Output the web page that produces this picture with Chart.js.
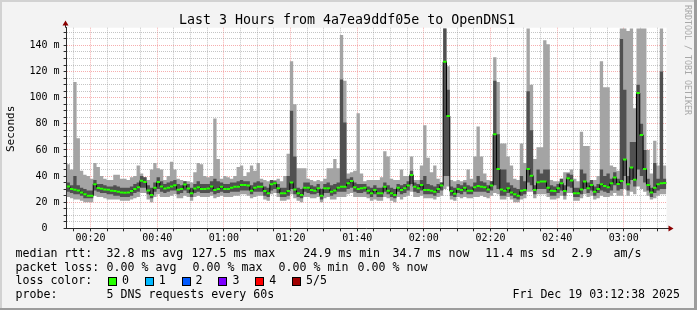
<!DOCTYPE html>
<html>
<head>
<meta charset="utf-8">
<script src="https://cdn.jsdelivr.net/npm/chart.js@4/dist/chart.umd.min.js"></script>
<style>
  body { margin: 0; background: #f3f3f3; }
  #frame { position: relative; width: 697px; height: 310px; overflow: hidden; background: #f3f3f3;
           font-family: 'DejaVu Sans Mono', monospace; color: #000; }
  #c { position: absolute; left: 0; top: 0; }
  .t { position: absolute; white-space: pre; font-size: 11.6px; line-height: 11.6px; }
  .box { position: absolute; top: 277px; width: 7px; height: 7px; border: 1px solid #000; }
  .edge { position: absolute; }
</style>
</head>
<body>
<div id="frame">
  <canvas id="c" width="697" height="310"></canvas>
  <div class="edge" style="left:0;top:0;width:697px;height:2px;background:#d2d2d2"></div>
  <div class="edge" style="left:0;top:0;width:2px;height:310px;background:#d2d2d2"></div>
  <div class="edge" style="right:0;top:0;width:3px;height:310px;background:#9c9c9c"></div>
  <div class="edge" style="left:0;bottom:0;width:697px;height:2px;background:#9c9c9c"></div>

  <div class="t" style="left:179px;top:12.75px;font-size:13.3px;line-height:13.3px">Last 3 Hours from 4a7ea9ddf05e to OpenDNS1</div>
  <div class="t" style="left:5.2px;top:151.5px;font-size:11px;line-height:11px;transform:rotate(-90deg);transform-origin:0 0">Seconds</div>
  <div class="t" style="left:692px;top:5px;font-size:8.3px;line-height:8.3px;color:#a8a8a8;transform:rotate(90deg);transform-origin:0 0">RRDTOOL / TOBI OETIKER</div>
  <div id="legend"></div>
</div>
<script>
// one sample per minute, 00:12:48 .. 03:12:48 (minutes after midnight)
const sampleStart = 12.8;
const timeMax = 192.85;

// sorted ping results per minute (ms): min, 2nd, median, 4th, max
const pingMin = [
  24,23,22,22,21,20,20,20,25,24, 24,23,22,22,22,22,21,21,21,22,
  23,24,27,27,22,20,24,26,24,24, 24,25,26,23,23,25,24,21,24,25,
  24,24,24,25,23,24,25,24,24,24, 25,25,26,26,25,23,24,25,25,22,
  21,26,27,24,21,21,22,26,23,21, 20,24,24,23,23,24,20,23,24,22,
  22,24,24,24,26,27,24,24,24,24, 23,21,22,21,21,24,23,21,20,24,
  22,24,25,28,24,24,25,23,23,23, 22,24,25,30,32,22,21,24,23,24,
  23,23,24,24,25,24,23,25,27,26, 22,22,24,22,20,20,22,23,28,28,
  23,26,26,26,24,22,22,23,25,22, 27,27,21,21,23,26,24,25,22,23,
  25,24,24,25,27,25,25,30,25,28, 26,32,30,28,25,22,23,25,26,26
];
const pingLo = [
  28,27,26,26,25,23,23,23,29,28, 27,27,26,26,25,25,24,24,24,25,
  27,28,31,31,26,23,28,30,28,27, 28,29,29,26,27,29,27,24,27,28,
  27,27,27,28,26,27,28,27,27,28, 28,28,29,29,29,26,28,28,28,25,
  24,29,30,27,24,24,25,30,26,24, 23,28,27,26,26,27,22,27,27,25,
  26,28,28,28,30,31,28,27,27,28, 26,24,26,24,24,28,26,24,23,28,
  26,27,29,34,28,27,29,26,26,26, 25,27,29,40,40,25,24,27,26,28,
  26,26,28,28,28,28,27,29,33,30, 25,25,27,25,23,22,25,26,35,33,
  26,30,30,30,27,25,25,27,29,25, 32,31,24,24,26,30,27,29,25,27,
  29,28,27,29,33,29,30,40,29,37, 32,45,40,35,29,24,27,29,30,30
];
const median = [
  32.0,30.0,29.5,29.0,27.5,26.0,25.0,25.0,33.8,30.8, 30.2,29.8,29.5,28.8,28.5,28.0,27.5,27.3,27.5,28.5,
  30.0,31.5,36.5,35.5,29.0,25.5,31.0,35.5,32.0,30.5, 31.0,32.0,33.0,29.5,30.0,33.5,30.5,26.8,30.5,31.5,
  30.0,30.0,30.5,32.0,29.3,30.1,31.9,30.1,30.1,31.1, 31.9,31.9,33.2,33.2,32.7,28.8,31.1,31.9,31.9,28.5,
  26.8,33.7,34.5,30.6,26.8,26.8,28.5,35.0,29.8,26.8, 25.5,31.1,31.1,29.3,28.8,30.6,25.0,30.6,30.6,28.0,
  29.0,31.1,31.9,31.9,34.5,36.3,31.4,30.1,30.6,31.0, 28.8,26.8,29.3,26.8,26.8,31.9,28.8,26.8,25.5,31.1,
  29.3,30.6,32.7,40.9,31.9,30.6,33.2,29.3,29.3,28.8, 28.0,30.1,32.7,127.5,86.0,28.5,26.5,30.1,29.3,31.1,
  28.8,28.8,31.4,32.4,31.9,31.4,29.8,32.7,72.0,45.4, 29.8,28.8,30.6,27.5,26.0,25.0,28.8,29.3,45.4,40.3,
  29.3,35.3,35.8,35.8,31.1,28.8,28.5,30.6,34.5,28.5, 38.4,36.6,26.8,26.8,29.8,35.8,30.6,33.2,28.0,30.1,
  33.7,32.4,31.4,34.5,38.9,33.9,36.3,52.7,33.7,46.5, 37.1,103.6,71.5,45.4,33.2,27.5,31.1,33.7,34.5,34.7
];
const pingHi = [
  35,33,40,33,31,30,29,29,37,34, 34,33,32,32,33,32,31,31,31,32,
  34,35,40,39,33,31,35,39,36,34, 35,36,37,34,33,36,34,31,34,36,
  34,34,34,36,38,36,35,34,34,35, 35,36,37,36,36,33,35,36,35,32,
  31,37,36,34,31,31,40,90,55,31, 30,35,35,33,32,34,30,34,35,33,
  34,35,114,81,38,39,35,34,34,34, 32,31,33,31,31,35,33,31,30,34,
  33,34,36,44,35,34,37,40,34,33, 32,34,35,153,106,32,31,34,33,35,
  33,32,35,40,36,35,33,36,113,72, 45,45,35,33,31,30,40,36,105,75,
  33,45,42,45,45,33,32,34,38,33, 42,41,31,31,45,42,35,37,32,34,
  45,40,42,38,43,38,145,106,40,66, 66,110,80,60,38,31,50,38,120,38
];
const pingMax = [
  49,45,112,69,44,41,40,38,50,47, 40,38,37,37,41,41,38,38,37,39,
  40,48,42,39,37,45,50,46,45,37, 40,51,45,38,37,36,36,35,43,50,
  49,40,39,40,84,53,38,40,39,38, 40,47,48,40,43,48,44,50,38,37,
  36,37,37,38,36,40,57,128,95,46, 46,46,38,37,36,37,36,38,46,46,
  53,46,148,113,42,43,44,88,42,36, 37,37,37,37,39,59,55,38,37,37,
  45,40,40,55,37,37,48,79,54,43, 48,38,35,153,124,37,36,37,36,37,
  45,38,55,78,55,42,37,36,131,112, 65,65,55,48,38,37,65,50,153,110,
  53,62,62,144,141,37,36,36,38,43, 43,45,38,36,74,63,63,36,37,40,
  128,108,108,48,47,44,153,153,151,153, 92,153,153,153,60,42,67,48,153,48
];

const yTicksMajor = 20;   // labelled every 20 ms, grid every 5 ms
const xTicksMajor = 20;   // labelled every 20 minutes, grid every 5 minutes

const lossLabels = ['0', '1', '2', '3', '4', '5/5'];
const lossColors = ['#26ff00', '#00b8ff', '#0059ff', '#7e00ff', '#ff0000', '#a00000'];

const legendRows = [
  [['median rtt:', 15.5], ['32.8 ms avg', 106.5], ['127.5 ms max', 191.5], ['24.9 ms min', 303.3],
   ['34.7 ms now', 392.6], ['11.4 ms sd', 485.3], ['2.9', 571.6], ['am/s', 613.5]],
  [['packet loss:', 15.5], ['0.00 % avg', 106.6], ['0.00 % max', 192.6], ['0.00 % min', 278.6], ['0.00 % now', 357.6]],
  [['loss color:', 15.5]],
  [['probe:', 15.5], ['5 DNS requests every 60s', 106.6]]
];
const rowTops = [248.2, 261.7, 275.2, 288.7];

// legend text
const legend = document.getElementById('legend');
legendRows.forEach((row, r) => {
  row.forEach(([txt, x]) => {
    const d = document.createElement('div');
    d.className = 't';
    d.style.left = x + 'px';
    d.style.top = rowTops[r] + 'px';
    d.textContent = txt;
    legend.appendChild(d);
  });
});
lossLabels.forEach((lab, i) => {
  const bx = 108 + i * 36.8;
  const b = document.createElement('div');
  b.className = 'box';
  b.style.left = bx + 'px';
  b.style.background = lossColors[i];
  legend.appendChild(b);
  const d = document.createElement('div');
  d.className = 't';
  d.style.left = (bx + 14) + 'px';
  d.style.top = rowTops[2] + 'px';
  d.textContent = lab;
  legend.appendChild(d);
});
const date = document.createElement('div');
date.className = 't';
date.style.right = '17px';
date.style.top = rowTops[3] + 'px';
date.textContent = 'Fri Dec 19 03:12:38 2025';
legend.appendChild(date);

const LIGHT = '#a4a4a4';
const DARK = '#505050';
const GREEN = '#26ff00';
const AXIS = '#2a2a2a';
const ARROW = '#8b0000';
const MINOR = 'rgba(150,150,150,0.55)';
const MAJOR = 'rgba(240,120,120,0.6)';

function steps(vals) {
  const pts = vals.map((v, i) => ({ x: sampleStart + i, y: v }));
  pts.push({ x: sampleStart + vals.length, y: vals[vals.length - 1] });
  return pts;
}
function centers(vals) {
  return vals.map((v, i) => ({ x: sampleStart + i + 0.5, y: v }));
}
function hhmm(v) {
  const h = Math.floor(v / 60), m = v % 60;
  return String(h).padStart(2, '0') + ':' + String(m).padStart(2, '0');
}

const plotBg = {
  id: 'plotBg',
  beforeDraw(chart) {
    const { ctx, chartArea: a } = chart;
    ctx.save();
    ctx.fillStyle = '#ffffff';
    ctx.fillRect(a.left, a.top, a.right - a.left, a.bottom - a.top);
    ctx.restore();
  }
};

const arrows = {
  id: 'arrows',
  afterDraw(chart) {
    const { ctx, chartArea: a } = chart;
    const xl = Math.floor(a.left) - 0.5;
    const yb = Math.floor(a.bottom) + 0.5;
    ctx.save();
    ctx.strokeStyle = AXIS;
    ctx.lineWidth = 1;
    ctx.beginPath();
    ctx.moveTo(xl, a.top); ctx.lineTo(xl, 25);
    ctx.moveTo(a.right, yb); ctx.lineTo(669, yb);
    ctx.stroke();
    ctx.fillStyle = ARROW;
    ctx.beginPath();
    ctx.moveTo(xl - 3, 25.5); ctx.lineTo(xl + 3, 25.5); ctx.lineTo(xl, 20.5); ctx.closePath();
    ctx.fill();
    ctx.beginPath();
    ctx.moveTo(668.5, yb - 3); ctx.lineTo(668.5, yb + 3); ctx.lineTo(673.5, yb); ctx.closePath();
    ctx.fill();
    ctx.restore();
  }
};

const base = { type: 'line', pointRadius: 0, pointHoverRadius: 0, borderWidth: 0, stepped: true, tension: 0 };
const tickFont = { family: 'DejaVu Sans Mono', size: 10 };

new Chart(document.getElementById('c'), {
  type: 'line',
  data: {
    datasets: [
      { ...base, data: steps(pingMax), fill: 1, backgroundColor: LIGHT, borderColor: 'rgba(0,0,0,0)', order: 6 },
      { ...base, data: steps(pingMin), fill: false, borderColor: 'rgba(0,0,0,0)', order: 7 },
      { ...base, data: steps(pingHi), fill: 3, backgroundColor: DARK, borderColor: 'rgba(0,0,0,0)', order: 4 },
      { ...base, data: steps(pingLo), fill: false, borderColor: 'rgba(0,0,0,0)', order: 5 },
      { ...base, data: steps(median), fill: false, borderWidth: 1, borderColor: '#000', order: 2 },
      { type: 'line', data: centers(median), showLine: false, fill: false, pointStyle: 'line',
        pointRadius: 1.75, pointHoverRadius: 1.75, pointBorderWidth: 2, pointBorderColor: GREEN,
        pointBackgroundColor: GREEN, order: 1 }
    ]
  },
  options: {
    responsive: false,
    animation: false,
    events: [],
    layout: { padding: { left: 0, top: 27.7, right: 30.4, bottom: 0 } },
    plugins: { legend: { display: false }, tooltip: { enabled: false } },
    scales: {
      x: {
        type: 'linear', min: sampleStart, max: timeMax, z: 1,
        afterFit: s => { s.height = 81.7; },
        grid: {
          color: c => (c.tick && c.tick.value % xTicksMajor === 0) ? MAJOR : MINOR,
          lineWidth: 1, drawTicks: true, tickLength: 3, tickColor: AXIS
        },
        border: { display: true, color: AXIS, width: 1, dash: [1, 1] },
        ticks: {
          stepSize: 5, autoSkip: false, maxRotation: 0, includeBounds: false, padding: 1,
          color: '#000', font: tickFont,
          callback: v => (v % xTicksMajor === 0 ? hhmm(v) : '')
        }
      },
      y: {
        min: 0, max: 153.6, z: 1,
        afterFit: s => { s.width = 66.6; },
        grid: {
          color: c => (c.tick && c.tick.value % yTicksMajor === 0) ? MAJOR : MINOR,
          lineWidth: 1, drawTicks: true, tickLength: 3, tickColor: AXIS
        },
        border: { display: true, color: AXIS, width: 1, dash: [1, 1] },
        ticks: {
          stepSize: 5, autoSkip: false, includeBounds: false, padding: 4,
          color: '#000', font: tickFont,
          callback: v => (v % yTicksMajor === 0 ? (v === 0 ? '0  ' : v + ' m') : '')
        }
      }
    }
  },
  plugins: [plotBg, arrows]
});
</script>
</body>
</html>
